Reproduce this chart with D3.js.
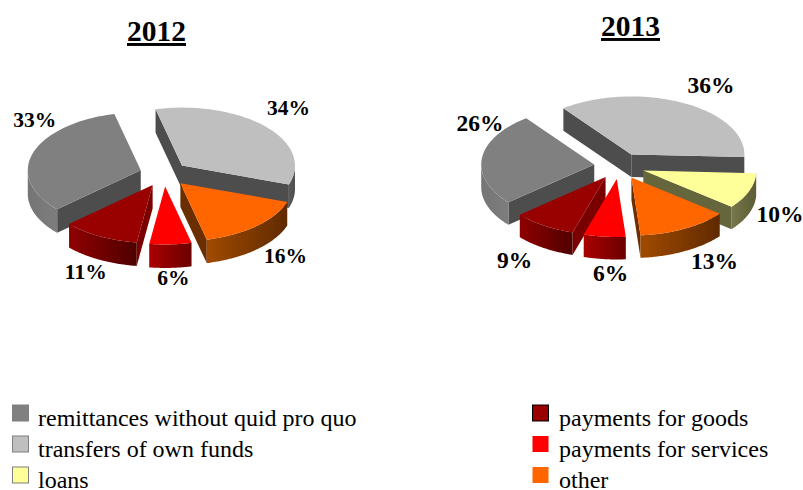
<!DOCTYPE html>
<html><head><meta charset="utf-8">
<script src="https://cdn.jsdelivr.net/npm/d3@7/dist/d3.min.js"></script>
<style>html,body{margin:0;padding:0;background:#fff}svg{display:block}text{font-family:"Liberation Serif",serif;fill:#000}</style>
</head><body><svg id="c" width="803" height="490"></svg>
<script>
// clockwise order round each pie, starting at the "transfers" slice
const sliceOrder = ["transfers of own funds","loans","other","payments for services","payments for goods","remittances without quid pro quo"];
const values2012 = [34,0,16,6,11,33];
const values2013 = [36,10,13,6,9,26];
const labelNudge2012 = [[23,-12],[0,0],[29,37],[3,41],[-14,43],[2,-26]];
const labelNudge2013 = [[27,-10],[31,31],[30,40],[6,44],[-29,43],[-2,-27]];
const legendLeft = ["remittances without quid pro quo","transfers of own funds","loans"];
const legendRight = ["payments for goods","payments for services","other"];
const topColors  = ["#bfbfbf","#ffff99","#ff6600","#ff0000","#990000","#808080"];
const wallColors = ["#4d4d4d","#66663d","#6b2e00","#800000","#7a0000","#4d4d4d"];
const rimLight   = ["#5a5a5a","#77774a","#a04a00","#aa0000","#8f0000","#7d7d7d"];
const rimDark    = ["#4d4d4d","#5c5c36","#602a00","#6a0000","#4f0000","#757575"];
const swatchStroke = ["#7f7f7f","#7f7f7f","#7f7f7f","#000000","none","none"];

const color = d3.scaleOrdinal(sliceOrder, topColors);
const wall  = d3.scaleOrdinal(sliceOrder, wallColors);
const light = d3.scaleOrdinal(sliceOrder, rimLight);
const dark  = d3.scaleOrdinal(sliceOrder, rimDark);
const stroke = d3.scaleOrdinal(legendLeft.concat(legendRight), swatchStroke);

const svg = d3.select("#c");
const defs = svg.append("defs");
defs.append("filter").attr("id","soft").attr("x","-5%").attr("y","-5%").attr("width","110%").attr("height","110%")
  .append("feGaussianBlur").attr("stdDeviation",0.45);

const pies = [
 {title:"2012", values:values2012, nudge:labelNudge2012, cx:164, cy:174, rx:113, ry:58, e:.215, depth:23.5, start:-13.5, tx:156.5, ty:41, fs:21.5},
 {title:"2013", values:values2013, nudge:labelNudge2013, cx:619.5, cy:166, rx:113, ry:58, e:.225, depth:22.5, start:-37, tx:630.5, ty:36, fs:23.5}
];
const rad = d => d*Math.PI/180;

pies.forEach((P,pi)=>{
  const arcs = d3.pie().sort(null).value(d=>d.v)
     .startAngle(rad(P.start)).endAngle(rad(P.start+360))
     (P.values.map((v,i)=>({v,name:sliceOrder[i],nudge:P.nudge[i]})))
     .filter(a=>a.data.v>0);
  const xS = d3.scaleLinear().domain([-1,1]).range([P.cx-P.rx,P.cx+P.rx]);
  const yS = d3.scaleLinear().domain([-1,1]).range([P.cy-P.ry,P.cy+P.ry]);
  const pt = (ang,r,mid,dz=0)=>[
     xS(r*Math.sin(ang)+P.e*Math.sin(mid)),
     yS(-r*Math.cos(ang)-P.e*Math.cos(mid))+dz];
  const line = d3.line();
  const g = svg.append("g").attr("filter","url(#soft)");
  const order = arcs.slice().sort((a,b)=>{
     const ma=(a.startAngle+a.endAngle)/2, mb=(b.startAngle+b.endAngle)/2;
     return Math.cos(mb)-Math.cos(ma);
  });
  order.forEach((a,k)=>{
    const mid=(a.startAngle+a.endAngle)/2, a0=a.startAngle, a1=a.endAngle;
    const sg=g.append("g");
    const n=a.data.name;
    const quad=(ang)=>[pt(ang,0,mid),pt(ang,1,mid),pt(ang,1,mid,P.depth),pt(ang,0,mid,P.depth)];
    if(Math.sin(a0)<0) sg.append("path").attr("d",line(quad(a0))+"Z").attr("fill",wall(n));
    if(Math.sin(a1)>0) sg.append("path").attr("d",line(quad(a1))+"Z").attr("fill",wall(n));
    // rim: the part of the arc on the front half of the ellipse
    const lo=Math.max(a0,rad(90)), hi=Math.min(a1,rad(270));
    if(hi>lo){
      const ts=d3.range(0,61).map(i=>lo+(hi-lo)*i/60);
      const top=ts.map(t=>pt(t,1,mid));
      const bot=ts.map(t=>pt(t,1,mid,P.depth)).reverse();
      const xs=top.map(p=>p[0]);
      const gid=`rim${pi}_${k}`;
      const gr=defs.append("linearGradient").attr("id",gid).attr("gradientUnits","userSpaceOnUse")
        .attr("x1",d3.min(xs)).attr("x2",d3.max(xs)).attr("y1",0).attr("y2",0);
      const lightFirst = n!=="remittances without quid pro quo";
      gr.append("stop").attr("offset",0).attr("stop-color",lightFirst?light(n):dark(n));
      gr.append("stop").attr("offset",1).attr("stop-color",lightFirst?dark(n):light(n));
      sg.append("path").attr("d",line(top.concat(bot))+"Z").attr("fill",`url(#${gid})`);
    }
    const ts=d3.range(0,61).map(i=>a0+(a1-a0)*i/60);
    sg.append("path").attr("d",line([pt(0,0,mid)].concat(ts.map(t=>pt(t,1,mid))))+"Z").attr("fill",color(n));
  });
  // labels
  arcs.forEach(a=>{
    const mid=(a.startAngle+a.endAngle)/2;
    const p=pt(mid,1,mid);
    svg.append("text").attr("x",p[0]+a.data.nudge[0]).attr("y",p[1]+a.data.nudge[1])
      .attr("text-anchor","middle").attr("font-size",P.fs).attr("font-weight","bold")
      .text(a.data.v+"%");
  });
  svg.append("text").attr("x",P.tx).attr("y",P.ty).attr("text-anchor","middle")
    .attr("font-size",29.5).attr("font-weight","bold").style("text-decoration","underline").text(P.title);
});

// legend
const rowY = d3.scalePoint().domain([0,1,2]).range([426,488]);
[[legendLeft,12.5,38],[legendRight,532.5,559]].forEach(([items,sx,tx])=>{
  items.forEach((name,i)=>{
    svg.append("rect").attr("x",sx).attr("y",rowY(i)-21).attr("width",16).attr("height",16)
      .attr("fill",color(name)).attr("stroke",stroke(name)).attr("stroke-width",1);
    svg.append("text").attr("x",tx).attr("y",rowY(i)).attr("font-size",24).text(name);
  });
});
</script></body></html>
